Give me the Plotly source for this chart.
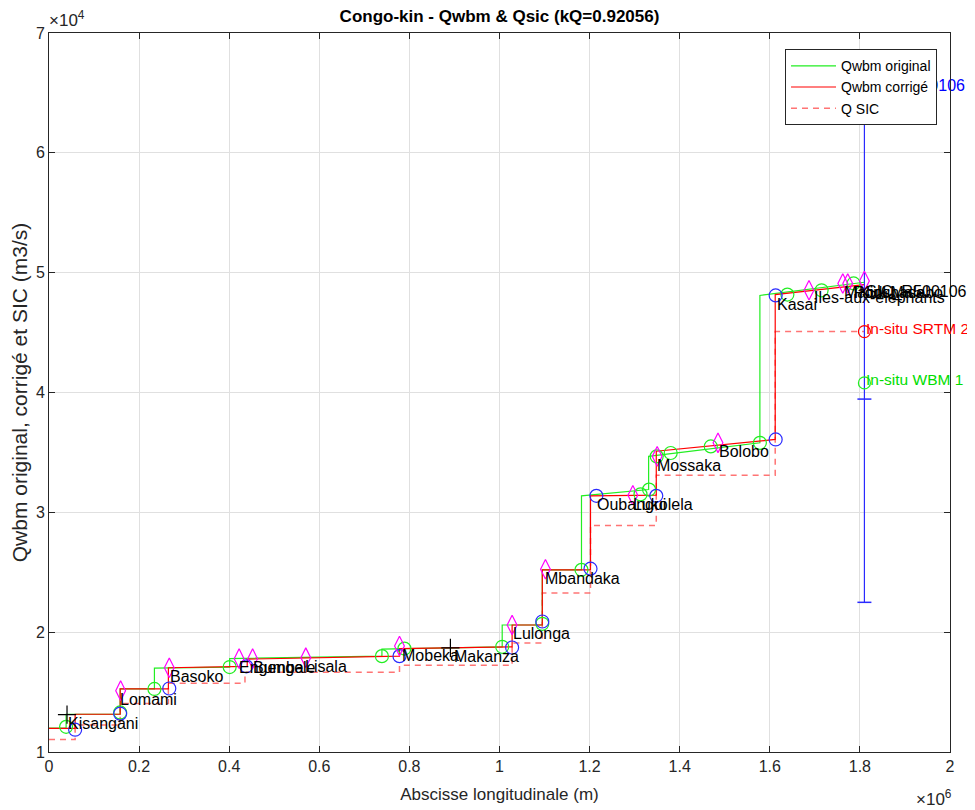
import plotly.graph_objects as go

# ---------------- data ----------------
# Qwbm original (green): segment edges and start/end discharge per reach
orig_edges = [0, 38e3, 158e3, 234e3, 401e3, 739e3, 1006e3, 1095e3, 1182e3, 1331e3, 1578e3, 1810e3]
orig_q0 = [12000, 13150, 15260, 17000, 17800, 18580, 20600, 25200, 31380, 34670, 48100]
orig_q1 = [12000, 13150, 15260, 17090, 18000, 18780, 20600, 25200, 31900, 35800, 49200]

# Qwbm corrigé (red solid)
corr_edges = [0, 58e3, 158e3, 265e3, 440e3, 778e3, 1028e3, 1095e3, 1202e3, 1348e3, 1612e3, 1810e3]
corr_q0 = [11970, 13150, 15260, 17030, 17750, 18630, 20600, 25200, 31380, 35100, 48170]
corr_q1 = [11970, 13150, 15260, 17150, 18000, 18780, 20600, 25200, 31430, 36080, 49000]

# Q SIC (red dashed)
sic_edges = [0, 58e3, 158e3, 265e3, 435e3, 778e3, 1028e3, 1095e3, 1202e3, 1348e3, 1612e3, 1810e3]
sic_q = [11040, 12250, 14050, 15740, 16650, 17230, 19100, 23270, 28900, 33100, 45080]

# station markers
blue_x = [58e3, 158e3, 267e3, 438e3, 778e3, 1028e3, 1095e3, 1202e3, 1215e3, 1348e3, 1613e3, 1613e3]
blue_q = [11860, 13200, 15300, 17150, 18000, 18720, 20890, 25300, 31380, 31380, 36080, 48100]

green_x = [38e3, 158e3, 234e3, 401e3, 739e3, 789e3, 1006e3, 1095e3, 1182e3, 1313e3, 1332e3,
           1349e3, 1380e3, 1469e3, 1578e3, 1639e3, 1715e3, 1786e3]
green_q = [12100, 13300, 15260, 17090, 18000, 18630, 18780, 20700, 25200, 31500, 31900,
           34670, 34950, 35500, 35800, 48170, 48530, 49100]

mag_x = [159e3, 267e3, 422e3, 452e3, 570e3, 778e3, 1028e3, 1102e3, 1296e3, 1350e3, 1485e3,
         1687e3, 1762e3, 1773e3, 1810e3]
mag_q = [15120, 17030, 17790, 17790, 17870, 18850, 20600, 25250, 31430, 34670, 35800,
         48530, 49100, 49100, 49300]

plus_x = [40e3, 891e3]
plus_q = [13120, 18690]

# in-situ
insitu_x = 1810e3
srtm_q = 45080
wbm_q = 40800
err_q = [22490, 39450, 65500]
err_label = "SIC_R500106"

# station labels (anchor points)
label_names = ["Kisangani", "Lomami", "Basoko", "Engengele", "Bumba", "Lisala", "Mobeka", "Makanza",
               "Lulonga", "Mbandaka", "Oubangui", "Lukolela", "Mossaka", "Bolobo", "Kasai",
               "Iles-aux-elephants", "Maluku", "Pool Malebo", "Kinshasa", "SIC_R500106"]
label_x = [42e3, 158e3, 269e3, 422e3, 453e3, 569e3, 784e3, 898e3, 1030e3, 1102e3, 1216e3, 1296e3,
           1350e3, 1487e3, 1616e3, 1698e3, 1764e3, 1787e3, 1798e3, 1813e3]
label_q = [13120, 15120, 17030, 17790, 17790, 17870, 18830, 18690, 20600, 25250, 31380, 31430,
           34670, 35800, 48100, 48700, 49100, 49100, 49100, 49100]

x_tickvals = [0, 2e5, 4e5, 6e5, 8e5, 1e6, 1.2e6, 1.4e6, 1.6e6, 1.8e6, 2e6]
x_ticktext = ["0", "0.2", "0.4", "0.6", "0.8", "1", "1.2", "1.4", "1.6", "1.8", "2"]
y_tickvals = [1e4, 2e4, 3e4, 4e4, 5e4, 6e4, 7e4]
y_ticktext = ["1", "2", "3", "4", "5", "6", "7"]

title = "Congo-kin - Qwbm & Qsic (kQ=0.92056)"


def seg_path(edges, q0, q1):
    xs, ys = [], []
    for i in range(len(q0)):
        xs += [edges[i], edges[i + 1]]
        ys += [q0[i], q1[i]]
    return xs, ys


FONT = "Liberation Sans, Arial, Helvetica, sans-serif"
GREEN = "#22ee22"
RED = "#ff0000"
BLUE = "#2a2aff"
MAG = "#ff00ff"

fig = go.Figure()

ox, oy = seg_path(orig_edges, orig_q0, orig_q1)
cx, cy = seg_path(corr_edges, corr_q0, corr_q1)
sx, sy = seg_path(sic_edges, sic_q, sic_q)

fig.add_trace(go.Scatter(x=sx, y=sy, mode="lines", name="Q SIC",
                         line=dict(color="rgba(255,70,70,0.75)", width=1.5, dash="6px,5px"),
                         legendrank=3))
fig.add_trace(go.Scatter(x=ox, y=oy, mode="lines", name="Qwbm original",
                         line=dict(color=GREEN, width=1.2), legendrank=1))
fig.add_trace(go.Scatter(x=cx, y=cy, mode="lines", name="Qwbm corrigé",
                         line=dict(color=RED, width=1.2), legendrank=2))

# blue error bar
fig.add_trace(go.Scatter(x=[insitu_x, insitu_x], y=[err_q[0], err_q[-1]], mode="lines",
                         line=dict(color=BLUE, width=1.2), showlegend=False))
fig.add_trace(go.Scatter(x=[insitu_x] * len(err_q), y=err_q, mode="markers",
                         marker=dict(symbol="line-ew", size=10, color=BLUE,
                                     line=dict(color=BLUE, width=1.5)),
                         showlegend=False))


def open_markers(xs, ys, symbol, size, color):
    return go.Scatter(x=xs, y=ys, mode="markers", showlegend=False,
                      marker=dict(symbol=symbol, size=size, color=color,
                                  line=dict(color=color, width=1.2)))


fig.add_trace(open_markers(green_x, green_q, "circle-open", 13, GREEN))
fig.add_trace(open_markers(blue_x, blue_q, "circle-open", 13, BLUE))
fig.add_trace(open_markers(mag_x, mag_q, "diamond-tall-open", 14, MAG))
fig.add_trace(open_markers(plus_x, plus_q, "cross-thin-open", 13, "#000000"))
fig.add_trace(open_markers([insitu_x], [srtm_q], "circle-open", 12, RED))
fig.add_trace(open_markers([insitu_x], [wbm_q], "circle-open", 12, GREEN))

# blue label (under legend)
fig.add_trace(go.Scatter(x=[insitu_x], y=[err_q[-1]], mode="text", text=[err_label],
                         textposition="middle right", cliponaxis=False, showlegend=False,
                         marker=dict(size=1),
                         textfont=dict(family=FONT, size=16, color="#0000ff")))

annotations = []
for name, lx, lq in zip(label_names, label_x, label_q):
    annotations.append(dict(x=lx, y=lq, xref="x", yref="y", text=name, showarrow=False,
                            xanchor="left", yanchor="middle", xshift=-2, yshift=-9,
                            font=dict(family=FONT, size=16, color="#000000")))
annotations.append(dict(x=insitu_x, y=srtm_q, xref="x", yref="y", text="In-situ SRTM 2",
                        showarrow=False, xanchor="left", yanchor="middle", xshift=0, yshift=3,
                        font=dict(family=FONT, size=15.5, color="#ff0000")))
annotations.append(dict(x=insitu_x, y=wbm_q, xref="x", yref="y", text="In-situ WBM 1",
                        showarrow=False, xanchor="left", yanchor="middle", xshift=0, yshift=3,
                        font=dict(family=FONT, size=15.5, color="#00dd00")))
annotations.append(dict(x=0, y=1, xref="paper", yref="paper", text="×10<sup>4</sup>",
                        showarrow=False, xanchor="left", yanchor="bottom", yshift=1, xshift=-2,
                        font=dict(family=FONT, size=17, color="#262626")))
annotations.append(dict(x=1, y=0, xref="paper", yref="paper", text="×10<sup>6</sup>",
                        showarrow=False, xanchor="right", yanchor="middle", yshift=-46, xshift=4,
                        font=dict(family=FONT, size=17, color="#262626")))

axis_common = dict(showgrid=True, gridcolor="#e0e0e0", gridwidth=1, zeroline=False,
                   showline=True, linecolor="#262626", linewidth=1, mirror="ticks",
                   ticks="inside", ticklen=6, tickcolor="#262626", automargin=False,
                   tickfont=dict(family=FONT, size=16, color="#262626"))

# page has an 8px body margin: figure is sized/margined to compensate
fig.update_layout(
    width=967, height=802,
    margin=dict(l=41, r=25, t=25, b=58),
    paper_bgcolor="white", plot_bgcolor="white",
    title=dict(text="<b>" + title + "</b>", x=(0.5 * (49 + 950) - 8) / 967, xref="container",
               xanchor="center", yref="container", y=1 - 8 / 802, yanchor="middle",
               font=dict(family=FONT, size=17, color="#000000")),
    xaxis=dict(range=[0, 2e6], tickvals=x_tickvals, ticktext=x_ticktext,
               title=dict(text="Abscisse longitudinale (m)", standoff=13,
                          font=dict(family=FONT, size=17, color="#262626")),
               **axis_common),
    yaxis=dict(range=[1e4, 7e4], tickvals=y_tickvals, ticktext=y_ticktext,
               title=dict(text="Qwbm original, corrigé et SIC (m3/s)", standoff=9,
                          font=dict(family=FONT, size=21, color="#262626")),
               **axis_common),
    legend=dict(x=0.9856, y=0.9775, xanchor="right", yanchor="top",
                bgcolor="white", bordercolor="#262626", borderwidth=1,
                font=dict(family=FONT, size=14, color="#000000"),
                itemwidth=45, tracegroupgap=0),
    annotations=annotations,
    showlegend=True,
)

fig.write_html("out.html")
